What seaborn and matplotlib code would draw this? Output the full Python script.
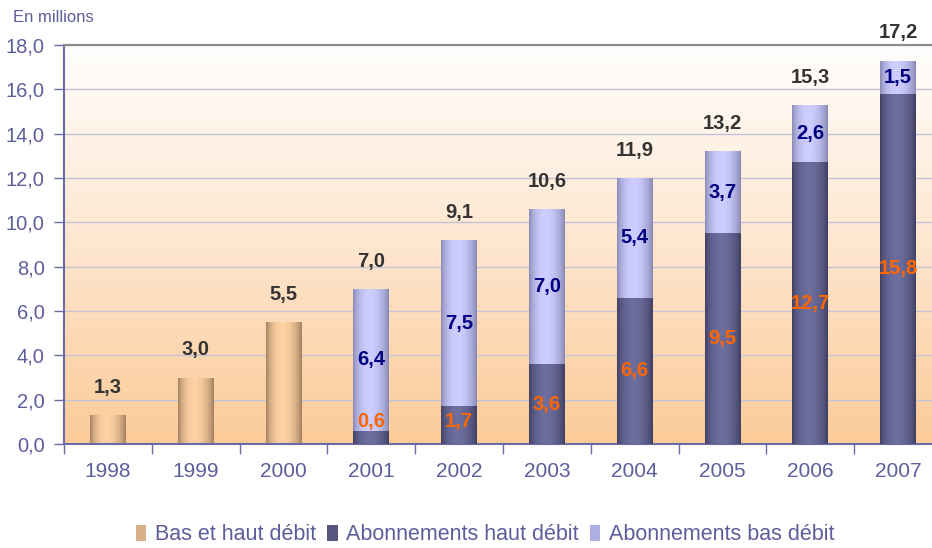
import numpy as np
import pandas as pd
import matplotlib
matplotlib.use("Agg")
import matplotlib.pyplot as plt
import seaborn as sns
from matplotlib.colors import LinearSegmentedColormap
from matplotlib.patches import Patch
from matplotlib.ticker import FuncFormatter

nan = np.nan

# Data (millions)
annees = ["1998", "1999", "2000", "2001", "2002", "2003", "2004", "2005", "2006", "2007"]
bas_et_haut = [1.3, 3.0, 5.5, nan, nan, nan, nan, nan, nan, nan]
haut_debit = [nan, nan, nan, 0.6, 1.7, 3.6, 6.6, 9.5, 12.7, 15.8]
bas_debit = [nan, nan, nan, 6.4, 7.5, 7.0, 5.4, 3.7, 2.6, 1.5]
totaux = [1.3, 3.0, 5.5, 7.0, 9.1, 10.6, 11.9, 13.2, 15.3, 17.2]
series_labels = ["Bas et haut débit", "Abonnements haut débit", "Abonnements bas débit"]

df = pd.DataFrame({"annee": annees, "bas_et_haut": bas_et_haut,
                   "haut": haut_debit, "bas": bas_debit})
df["cumul"] = df["haut"] + df["bas"]

# colours: (dark edge, light centre)
gold = ("#9a7a5a", "#fed2a2")
navy = ("#3c3c5e", "#6d6d9e")
lav = ("#8383ac", "#cdcdff")
slate = "#6a6aa6"
txt = "#5d5d9b"

sns.set_theme(style="white")
plt.rcParams["font.family"] = ["Liberation Sans", "DejaVu Sans"]

fig = plt.figure(figsize=(9.32, 5.48), dpi=100)
ax = fig.add_axes([64 / 932, 104 / 548, 878 / 932, 399 / 548])

# background gradient of the plot area
bg_cmap = LinearSegmentedColormap.from_list("bg", ["#fffefd", "#fee6cf", "#fccb98"])
bg = np.linspace(0, 1, 256).reshape(-1, 1)
ax.imshow(bg, extent=[0, 1, 0, 1], transform=ax.transAxes, aspect="auto",
          cmap=bg_cmap, zorder=-2)


def draw(col, colors, z):
    n0 = len(ax.patches)
    sns.barplot(data=df, x="annee", y=col, order=annees, color=colors[1],
                saturation=1, width=0.41, edgecolor="none", errorbar=None, ax=ax)
    cmap = LinearSegmentedColormap.from_list(col, list(colors))
    g = np.linspace(0, 1, 200)
    prof = np.clip(np.sin(np.pi * (g ** 0.9)), 0, 1) ** 0.7
    grad = prof.reshape(1, -1)
    for p in ax.patches[n0:]:
        h = p.get_height()
        if not np.isfinite(h) or h <= 0:
            continue
        p.set_zorder(z)
        x0, y0, w = p.get_x(), p.get_y(), p.get_width()
        im = ax.imshow(grad, extent=[x0, x0 + w, y0, y0 + h], aspect="auto",
                       cmap=cmap, vmin=0, vmax=1, zorder=z + 0.1,
                       interpolation="bilinear")
        im.set_clip_path(p)


draw("cumul", lav, 2)
draw("haut", navy, 3)
draw("bas_et_haut", gold, 2)

fmt = lambda v: f"{v:.1f}".replace(".", ",")

# value labels
for i in range(len(annees)):
    top = df["cumul"][i] if np.isfinite(df["cumul"][i]) else df["bas_et_haut"][i]
    ax.annotate(fmt(totaux[i]), (i, top), xytext=(0, 20), textcoords="offset points",
                ha="center", va="center", fontsize=14.5, fontweight="bold",
                color="#333333", zorder=5)
    h, b = df["haut"][i], df["bas"][i]
    if np.isfinite(h):
        ax.text(i, max(h / 2, 1.0), fmt(h), ha="center", va="center", fontsize=14.5,
                fontweight="bold", color="#ff6600", zorder=5)
        ax.text(i, h + b / 2, fmt(b), ha="center", va="center", fontsize=14.5,
                fontweight="bold", color="#000080", zorder=5)

ax.set_xlim(-0.5, 9.5)
ax.set_ylim(0, 18)
ax.set_xlabel("")
ax.set_ylabel("")

ax.set_yticks(np.arange(0, 19, 2))
ax.yaxis.set_major_formatter(FuncFormatter(lambda v, _: fmt(v)))
ax.set_xticks(np.arange(-0.5, 10, 1))
ax.set_xticklabels([""] * 11)
ax.set_xticks(np.arange(10), minor=True)
ax.set_xticklabels(annees, minor=True)

ax.tick_params(axis="y", left=True, length=7, width=1, color=slate,
               labelcolor=txt, labelsize=14.5, pad=7, direction="out")
ax.tick_params(axis="x", which="major", bottom=True, length=7, width=1,
               color=slate, direction="out")
ax.tick_params(axis="x", which="minor", bottom=True, length=0, labelcolor=txt,
               labelsize=15, pad=13)

ax.set_axisbelow(True)
ax.yaxis.grid(True, color="#c3c3d6", linewidth=1)
ax.xaxis.grid(False)

for s in ["left", "bottom"]:
    ax.spines[s].set_color(slate)
    ax.spines[s].set_linewidth(1.5)
ax.spines["top"].set_color("#8c8c8c")
ax.spines["top"].set_linewidth(1.5)
ax.spines["right"].set_visible(False)

fig.text(13 / 932, 1 - 17 / 548, "En millions", ha="left", va="center",
         fontsize=12, color=txt)

handles = [Patch(facecolor="#d9b08a", edgecolor="none"),
           Patch(facecolor="#55557f", edgecolor="none"),
           Patch(facecolor="#aeaee0", edgecolor="none")]
fig.legend(handles, series_labels, loc="center", bbox_to_anchor=(485 / 932, 1 - 535 / 548),
           ncol=3, frameon=False, fontsize=15.5, labelcolor=txt, handlelength=0.5,
           handleheight=0.75, handletextpad=0.4, columnspacing=0.5, borderpad=0)

fig.savefig("out.png", dpi=100)
